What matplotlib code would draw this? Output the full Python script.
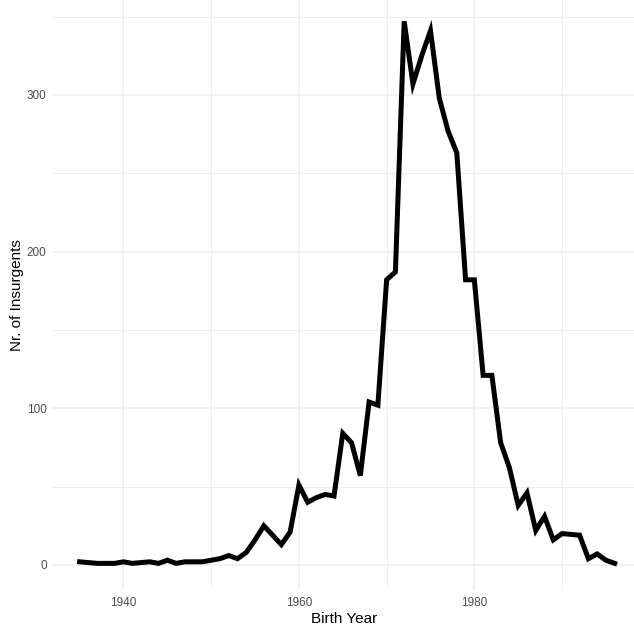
import numpy as np
import matplotlib
matplotlib.use("Agg")
import matplotlib.pyplot as plt
from matplotlib.ticker import MultipleLocator

# birth years and counts
years = list(range(1935, 1997))
insurgents = [2, 1.5, 1, 1, 1, 2, 1, 1.5, 2, 1,
              3, 1, 2, 2, 2, 3, 4, 6, 4, 8,
              16, 25, 19, 13, 21, 51, 40, 43, 45, 44,
              84, 78, 57, 104, 102, 182, 187, 347, 307, 325,
              341, 298, 277, 263, 182, 182, 121, 121, 78, 62,
              38, 46, 22, 31, 16, 20, 19.5, 19, 4, 7,
              3, 1]

x_major = [1940, 1960, 1980]
y_major = [0, 100, 200, 300]

plt.rcParams['font.family'] = ['Liberation Sans', 'DejaVu Sans']

fig = plt.figure(figsize=(6.34, 6.28), dpi=100)
W, H = 634, 628
ax = fig.add_axes([53.3 / W, (H - 590) / H, (634 - 53.3) / W, 590 / H])

ax.plot(years, insurgents, color='black', linewidth=3.6, solid_joinstyle='miter', zorder=3)

ax.set_xlim(1932.0, 1998.2)
ax.set_ylim(-16, 360.6)

ax.xaxis.set_major_locator(plt.FixedLocator(x_major))
ax.xaxis.set_minor_locator(MultipleLocator(10))
ax.yaxis.set_major_locator(plt.FixedLocator(y_major))
ax.yaxis.set_minor_locator(MultipleLocator(50))

ax.grid(which='major', color='#EDEDED', linewidth=1.1, zorder=0)
ax.grid(which='minor', color='#EDEDED', linewidth=0.7, zorder=0)
ax.set_axisbelow(True)

for s in ax.spines.values():
    s.set_visible(False)

ax.tick_params(which='both', length=0)
ax.tick_params(axis='x', labelsize=8.5, labelcolor='#4D4D4D', pad=5)
ax.tick_params(axis='y', labelsize=8.5, labelcolor='#4D4D4D', pad=4.8)

ax.set_xlabel('Birth Year', fontsize=11, color='black', labelpad=2.5)
ax.set_ylabel('Nr. of Insurgents', fontsize=11, color='black', labelpad=2)

fig.savefig('out.png', dpi=100)
